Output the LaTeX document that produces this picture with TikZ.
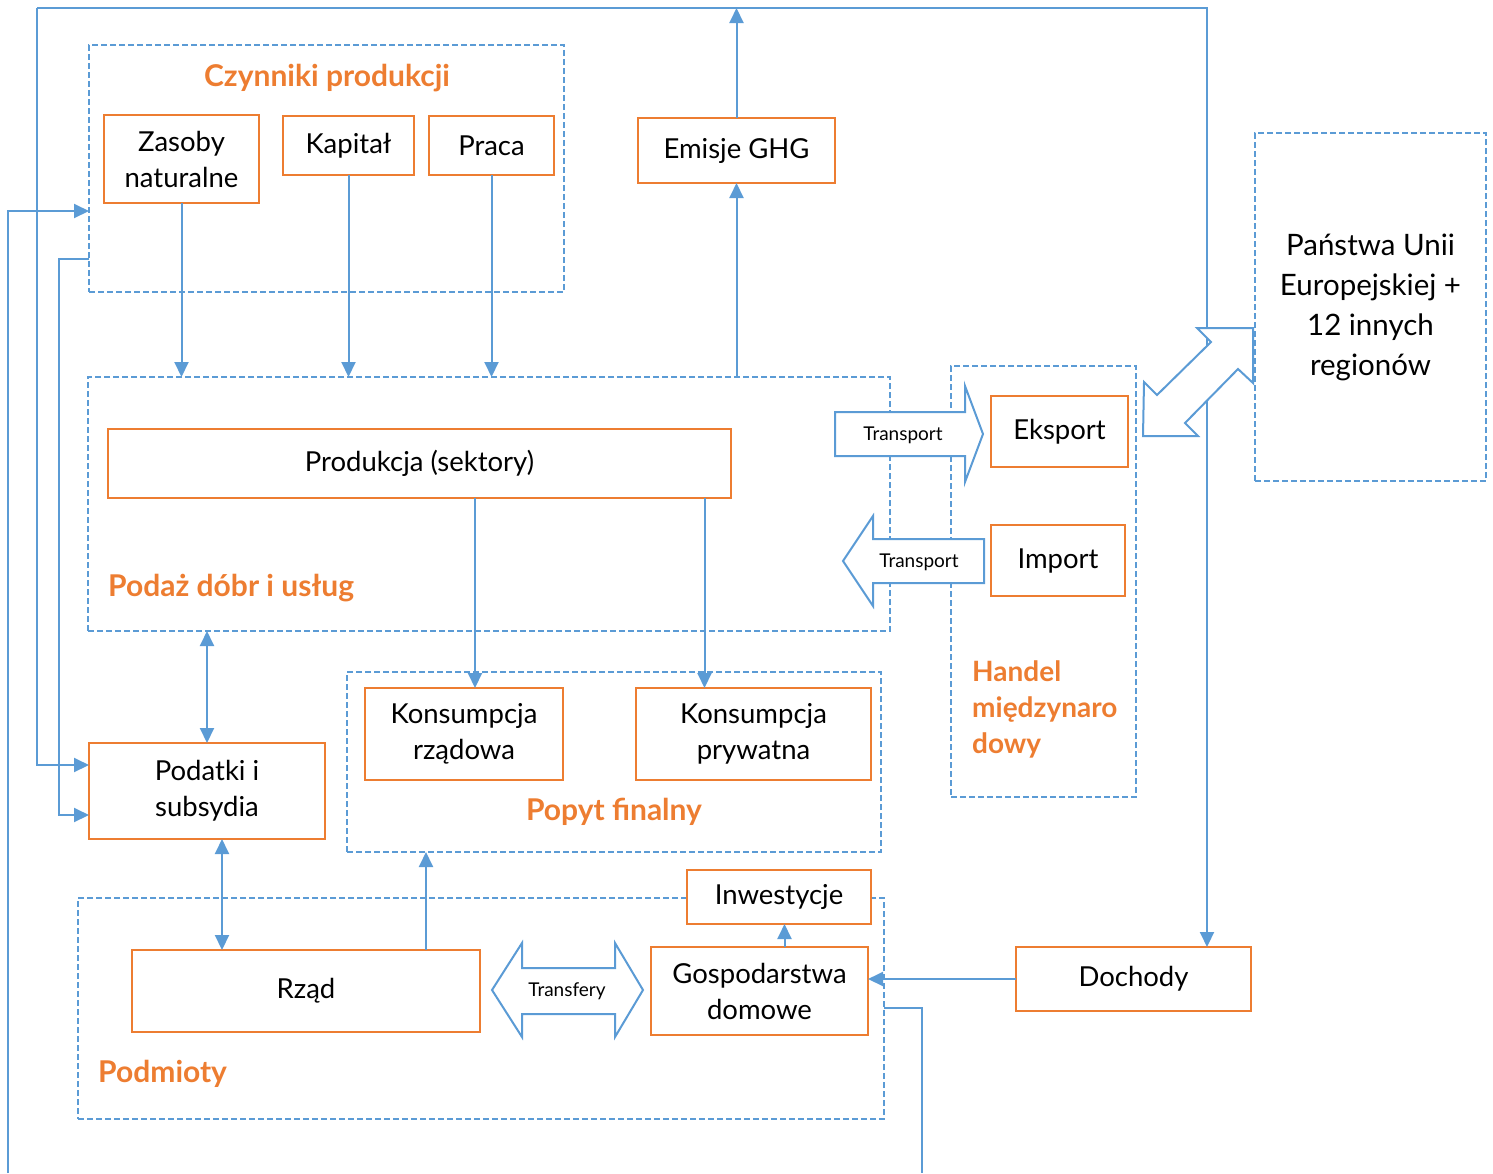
\documentclass[tikz,border=0pt]{standalone}
\usepackage{fontspec}
\setmainfont{Lato}
\usetikzlibrary{arrows.meta}
\usetikzlibrary{positioning}
\definecolor{pomar}{HTML}{ED7D31}
\definecolor{nieb}{HTML}{5B9BD5}

\begin{document}
\begin{tikzpicture}[x=1pt,y=-1pt,
  box/.style={rectangle,draw=pomar,line width=2.8pt,fill=white,inner sep=0.,outer sep=0.,align=center,font=\fontsize{27.5}{36}\selectfont},
  group/.style={rectangle,draw=nieb,line width=1.5pt,dash pattern=on 6pt off 3pt,inner sep=0.,outer sep=0.},
  grouplabel/.style={text=pomar,font=\fontsize{30}{36}\selectfont\bfseries,align=left,inner sep=0.},
  flow/.style={draw=nieb,line width=2pt,-{Triangle[length=15pt,width=14pt]}},
  flowboth/.style={draw=nieb,line width=2pt,{Triangle[length=15pt,width=14pt]}-{Triangle[length=15pt,width=14pt]}},
  blockarrow/.style={draw=nieb,line width=2pt,fill=white,line join=miter},
  small/.style={font=\fontsize{19}{22}\selectfont,inner sep=0.}]%
  \useasboundingbox (0,0) rectangle (1493,1173);
  % grupy
  \node[group,minimum width=475,minimum height=247] (czy) at (326.5,168.5) {};
  \node[group,minimum width=802,minimum height=254] (pdz) at (489,504) {};
  \node[group,minimum width=534,minimum height=180] (pop) at (614,762) {};
  \node[group,minimum width=185,minimum height=431] (han) at (1043.5,581.5) {};
  \node[group,minimum width=806,minimum height=221] (pmt) at (481,1008.5) {};
  \node[group,minimum width=231,minimum height=348,align=center,font=\fontsize{29.5}{40}\selectfont] (ue) at (1370.5,307) {Państwa Unii\\Europejskiej +\\12 innych\\regionów};
  \node[grouplabel] (lczy) at (327,78) {Czynniki produkcji};
  \node[grouplabel,anchor=west] (lpdz) at (108,588) {Podaż dóbr i usług};
  \node[grouplabel] (lpop) at (614,812) {Popyt finalny};
  \node[grouplabel,anchor=west,font=\fontsize{28}{36}\selectfont\bfseries] (lhan) at (972,709) {Handel\\międzynaro\\dowy};
  \node[grouplabel,anchor=west] (lpmt) at (98,1074) {Podmioty};
  % pola
  \node[box,minimum width=155,minimum height=88] (zas) at (181.5,159) {Zasoby\\naturalne};
  \node[box,minimum width=131,minimum height=59] (kap) at (348.5,145.5) {Kapitał};
  \node[box,minimum width=125,minimum height=59] (pra) at (491.5,145.5) {Praca};
  \node[box,minimum width=197,minimum height=65] (emi) at (736.5,150.5) {Emisje GHG};
  \node[box,minimum width=623,minimum height=69] (prod) at (419.5,463.5) {Produkcja (sektory)};
  \node[box,minimum width=137,minimum height=71] (eks) at (1059.5,431.5) {Eksport};
  \node[box,minimum width=134,minimum height=71] (imp) at (1058,560.5) {Import};
  \node[box,minimum width=198,minimum height=92] (krz) at (464,734) {Konsumpcja\\rządowa};
  \node[box,minimum width=235,minimum height=92] (kpr) at (753.5,734) {Konsumpcja\\prywatna};
  \node[box,minimum width=236,minimum height=96] (pod) at (207,791) {Podatki i\\subsydia};
  \node[box,minimum width=184,minimum height=54] (inw) at (779,897) {Inwestycje};
  \node[box,minimum width=217,minimum height=88] (gos) at (759.5,991) {Gospodarstwa\\domowe};
  \node[box,minimum width=348,minimum height=82] (rza) at (306,991) {Rząd};
  \node[box,minimum width=235,minimum height=64] (doc) at (1133.5,979) {Dochody};
  % punkty pomocnicze
  \coordinate (tl) at (37,8);
  \coordinate (tr) at (1207,8);
  \coordinate (bl) at (8,1173);
  \coordinate (br) at (922,1173);
  \coordinate (k1) at ([xshift=11pt]krz.north);
  \coordinate (k2) at ([xshift=-49pt]kpr.north);
  \coordinate (p2) at ([xshift=15pt]pod.south);
  \coordinate (r1) at ([xshift=120pt]rza.north);
  \coordinate (g1) at ([xshift=25pt]gos.north);
  \coordinate (d1) at ([xshift=73.5pt]doc.north);
  % przepływy
  \draw[flow] (tl) -- (tr) -- (d1);
  \draw[flow] (tl) |- ([yshift=26pt]pod.west);
  \draw[flow] (bl) |- ([yshift=-42.5pt]czy.west);
  \draw[flow] ([yshift=-90.5pt]czy.west) -- ++(-30,0) |- ([yshift=-24pt]pod.west);
  \draw[draw=nieb,line width=2pt] ([yshift=0.5pt]pmt.east) -| (br);
  \draw[flow] (emi.north) -- (emi.north |- tl);
  \draw[flow] (emi.south |- pdz.north) -- (emi.south);
  \draw[flow] (zas.south) -- (zas.south |- pdz.north);
  \draw[flow] (kap.south) -- (kap.south |- pdz.north);
  \draw[flow] (pra.south) -- (pra.south |- pdz.north);
  \draw[flow] (k1 |- prod.south) -- (k1);
  \draw[flow] (k2 |- prod.south) -- (k2);
  \draw[flowboth] (pod.north) -- (pod.north |- pdz.south);
  \draw[flowboth] (p2) -- (p2 |- rza.north);
  \draw[flow] (r1) -- (r1 |- pop.south);
  \draw[flow] (g1) -- (g1 |- inw.south);
  \draw[flow] (doc.west) -- (doc.west -| gos.east);
  % strzałki blokowe
  \draw[blockarrow] (835,412) -- (965,412) -- (965,386) -- (983,434) -- (965,482) -- (965,456) -- (835,456) -- cycle;
  \draw[blockarrow] (984,539) -- (873,539) -- (873,516) -- (843,561) -- (873,606) -- (873,583) -- (984,583) -- cycle;
  \draw[blockarrow] (492,990) -- (522,943) -- (522,968) -- (615,968) -- (615,943) -- (643,990) -- (615,1037) -- (615,1014) -- (522,1014) -- (522,1037) -- cycle;
  \draw[blockarrow] (1253,328) -- (1197,328) -- (1211,342) -- (1157,395) -- (1144,382) -- (1143,436) -- (1198,436) -- (1185,423) -- (1238,369) -- (1253,383) -- cycle;
  \node[small] (tr1) at (903,435) {Transport};
  \node[small] (tr2) at (919,562) {Transport};
  \node[small] (trf) at (567,991) {Transfery};
\end{tikzpicture}
\end{document}
